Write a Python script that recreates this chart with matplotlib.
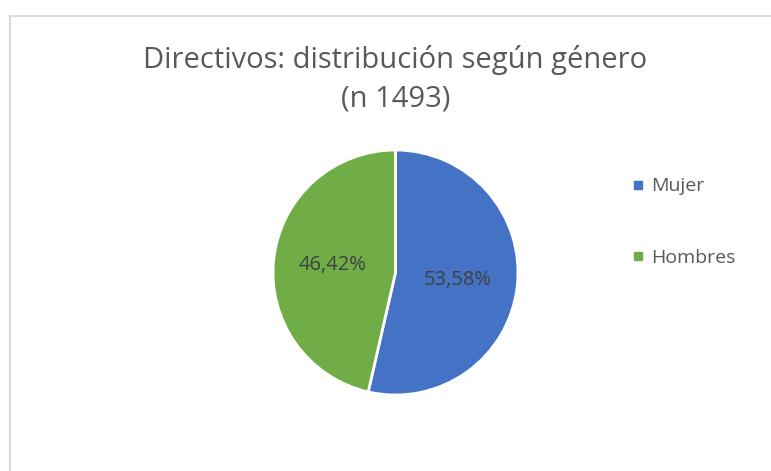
import numpy as np
import matplotlib.pyplot as plt
from matplotlib.patches import Rectangle
from matplotlib.lines import Line2D

# data
labels = ['Mujer', 'Hombres']
values = [53.58, 46.42]
colors = ['#4472c4', '#70ad47']
label_dist = [0.51, 0.52]

title = 'Directivos: distribución según género\n(n 1493)'

W, H = 771, 471
fig = plt.figure(figsize=(W / 100, H / 100), dpi=100)
fig.patch.set_facecolor('white')

# chart frame (only left & top edges visible in the crop)
fig.patches.append(Rectangle((9.5 / W, -0.2), 1.5, 1.2 - 15.5 / H,
                             transform=fig.transFigure, fill=False,
                             edgecolor='#d9d9d9', linewidth=1.5))

# pie axes placed in pixels
cx, cy, r = 395.5, 272.5, 122.5
ax = fig.add_axes([(cx - r) / W, (H - cy - r) / H, 2 * r / W, 2 * r / H])
wedges, _ = ax.pie(values, colors=colors, startangle=90, counterclock=False,
                   radius=1, wedgeprops=dict(edgecolor='white', linewidth=2))
ax.set_xlim(-1, 1)
ax.set_ylim(-1, 1)
ax.set_aspect('equal')
ax.axis('off')

for w, v, d in zip(wedges, values, label_dist):
    ang = np.deg2rad((w.theta1 + w.theta2) / 2)
    ax.text(d * np.cos(ang), d * np.sin(ang), f'{v:.2f}%'.replace('.', ','),
            ha='center', va='center', fontsize=14.5, color='#404040',
            family='Open Sans')

fig.text(cx / W, 1 - 79 / H, title, ha='center', va='center',
         fontsize=21, color='#595959', family='Open Sans', linespacing=1.42)

handles = [Line2D([], [], marker='s', linestyle='none', markersize=6,
                  markerfacecolor=c, markeredgecolor=c) for c in colors]
leg = fig.legend(handles, labels, loc='upper left',
                 bbox_to_anchor=(616 / W, 1 - 160 / H), frameon=False,
                 prop=dict(family='Open Sans', size=14),
                 labelspacing=2.75, handlelength=0.5, handletextpad=0.4)
for t in leg.get_texts():
    t.set_color('#595959')

fig.savefig('out.png', dpi=100)
